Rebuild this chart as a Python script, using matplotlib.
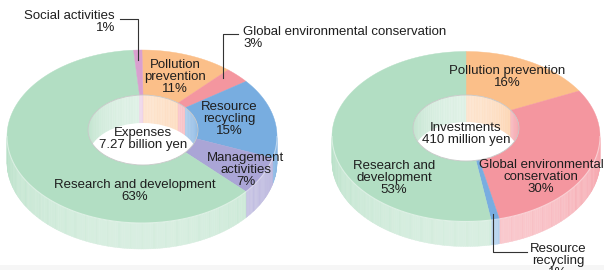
import numpy as np
import matplotlib
matplotlib.use("Agg")
import matplotlib.pyplot as plt
from matplotlib.patches import Polygon, Ellipse, Rectangle
from matplotlib.collections import PolyCollection
from matplotlib.colors import to_rgb

plt.rcParams['font.family'] = ['Liberation Sans', 'DejaVu Sans']

# data (clockwise from 12 o'clock)
exp_labels = ["Pollution\nprevention\n11%", "Global environmental conservation\n3%",
              "Resource\nrecycling\n15%", "Management\nactivities\n7%",
              "Research and development\n63%", "Social activities\n1%"]
exp_pct = [11, 3, 15, 7, 63, 1]
exp_colors = ['#fbbf89', '#f4969f', '#78ade0', '#aaa5d6', '#b2dec3', '#d9a0cf']
exp_center = "Expenses\n7.27 billion yen"

inv_labels = ["Pollution prevention\n16%", "Global environmental\nconservation\n30%",
              "Resource\nrecycling\n1%", "Research and\ndevelopment\n53%"]
inv_pct = [16, 30, 1, 53]
inv_colors = ['#fbbf89', '#f4969f', '#78ade0', '#b2dec3']
inv_center = "Investments\n410 million yen"

TXT = '#1e1e1e'
FS = 9.5


def mix(c, t):
    c = np.array(to_rgb(c))
    return tuple(c * (1 - t) + t)


def pt(cx, cy, a, b, phi):
    return cx + a * np.sin(phi), cy - b * np.cos(phi)


def donut(ax, pcts, colors, cx, cy, A, B, dep, hcx, hcy, a, b, hd):
    edges = np.concatenate([[0], np.cumsum(pcts)]) / float(sum(pcts)) * 2 * np.pi
    # outer side wall (front half only)
    for i, c in enumerate(colors):
        lo, hi = max(edges[i], np.pi / 2), min(edges[i + 1], 1.5 * np.pi)
        if lo >= hi:
            continue
        ph = np.linspace(lo, hi, max(int(np.degrees(hi - lo)) + 2, 2))
        x, y = pt(cx, cy, A, B, ph)
        quads, cols = [], []
        for j in range(len(ph) - 1):
            quads.append([(x[j], y[j]), (x[j + 1], y[j + 1]),
                          (x[j + 1], y[j + 1] + dep), (x[j], y[j] + dep)])
            m = 0.5 * (ph[j] + ph[j + 1])
            t = 0.12 + 0.38 * max(-np.cos(m), 0)
            if j % 5 == 0:
                t -= 0.05
            cols.append(mix(c, t))
        ax.add_collection(PolyCollection(quads, facecolors=cols, edgecolors=cols, linewidths=0.3))
    # top face
    for i, c in enumerate(colors):
        s, e = edges[i], edges[i + 1]
        ph = np.linspace(s, e, max(int(np.degrees(e - s)) + 2, 3))
        ox, oy = pt(cx, cy, A, B, ph)
        ix, iy = pt(hcx, hcy, a, b, ph[::-1])
        ax.add_patch(Polygon(np.column_stack([np.r_[ox, ix], np.r_[oy, iy]]),
                             closed=True, fc=c, ec=c, lw=0.3))
    # highlight on front rim
    ph = np.linspace(np.pi / 2, 1.5 * np.pi, 200)
    x, y = pt(cx, cy, A, B, ph)
    ax.plot(x, y, color='white', alpha=0.5, lw=0.8)
    # hole: back inner wall + floor
    hole = Ellipse((hcx, hcy), 2 * a, 2 * b, fc='none', ec='none')
    ax.add_patch(hole)
    for i, c in enumerate(colors):
        s, e = edges[i], edges[i + 1]
        ph = np.linspace(s, e, max(int(np.degrees(e - s)) + 2, 2))
        back = np.cos(ph) >= -0.05
        if back.sum() < 2:
            continue
        ph = ph[back]
        x, y = pt(hcx, hcy, a, b, ph)
        quads, cols = [], []
        for j in range(len(ph) - 1):
            quads.append([(x[j], y[j] - 1), (x[j + 1], y[j + 1] - 1),
                          (x[j + 1], y[j + 1] + hd + 1), (x[j], y[j] + hd + 1)])
            m = 0.5 * (ph[j] + ph[j + 1])
            t = 0.15 + 0.45 * max(np.cos(m), 0)
            if j % 3 == 0:
                t -= 0.06
            cols.append(mix(c, t))
        pc = PolyCollection(quads, facecolors=cols, edgecolors=cols, linewidths=0.3)
        ax.add_collection(pc)
        pc.set_clip_path(hole)
    floor = Ellipse((hcx, hcy + hd), 2 * a, 2 * b, fc='white', ec='none')
    ax.add_patch(floor)
    floor.set_clip_path(hole)
    ax.add_patch(Ellipse((hcx, hcy), 2 * a, 2 * b, fc='none', ec='#c8c8c8', lw=0.6))
    return edges


fig = plt.figure(figsize=(6.04, 2.70), dpi=100)
ax = fig.add_axes([0, 0, 1, 1])
ax.set_xlim(0, 604)
ax.set_ylim(270, 0)
ax.axis('off')
ax.add_patch(Rectangle((0, 265), 604, 6, fc='#f6f6f6', ec='none'))

# left donut: expenses
L = dict(cx=142, cy=136.5, A=135, B=86.5, dep=26, hcx=143, hcy=130, a=55, b=35, hd=28)
ed = donut(ax, exp_pct, exp_colors, **L)
ax.text(143, 139, exp_center, ha='center', va='center', fontsize=FS, color=TXT, linespacing=1.0)
inside = {0: (175, 77), 2: (229, 119), 3: (246, 170), 4: (135, 191)}
for k, (x, y) in inside.items():
    ax.text(x, y, exp_labels[k], ha='center', va='center', fontsize=FS, color=TXT, linespacing=1.0)

# leader: social activities
m = 0.5 * (ed[5] + ed[6])
ex, ey = pt(L['cx'], L['cy'], L['A'] * 0.88, L['B'] * 0.88, m)
ax.plot([120, ex, ex], [19, 19, ey], color='#333333', lw=0.8)
ax.text(115, 22, exp_labels[5], ha='right', va='center', fontsize=FS, color=TXT,
        linespacing=1.0, multialignment='right')
# leader: global environmental conservation
m = 0.5 * (ed[1] + ed[2])
ex, ey = pt(L['cx'], L['cy'], L['A'] * 0.9, L['B'] * 0.9, m - 0.06)
ax.plot([238, ex, ex], [34, 34, ey], color='#333333', lw=0.8)
ax.text(243, 38, exp_labels[1], ha='left', va='center', fontsize=FS, color=TXT,
        linespacing=1.0, multialignment='left')

# right donut: investments
R = dict(cx=466, cy=136.5, A=134, B=85, dep=25, hcx=466, hcy=128, a=53, b=33, hd=27)
ed = donut(ax, inv_pct, inv_colors, **R)
ax.text(466, 134, inv_center, ha='center', va='center', fontsize=FS, color=TXT, linespacing=1.0)
inside = {0: (507, 77), 1: (541, 177), 3: (394, 178)}
for k, (x, y) in inside.items():
    ax.text(x, y, inv_labels[k], ha='center', va='center', fontsize=FS, color=TXT, linespacing=1.0)

m = 0.5 * (ed[2] + ed[3])
ex, ey = pt(R['cx'], R['cy'], R['A'] * 0.93, R['B'] * 0.93, m)
ax.plot([ex, ex, 527], [ey, 252, 252], color='#333333', lw=0.8)
ax.text(558, 261, inv_labels[2], ha='center', va='center', fontsize=FS, color=TXT, linespacing=1.0)

fig.savefig('out.png', dpi=100)
